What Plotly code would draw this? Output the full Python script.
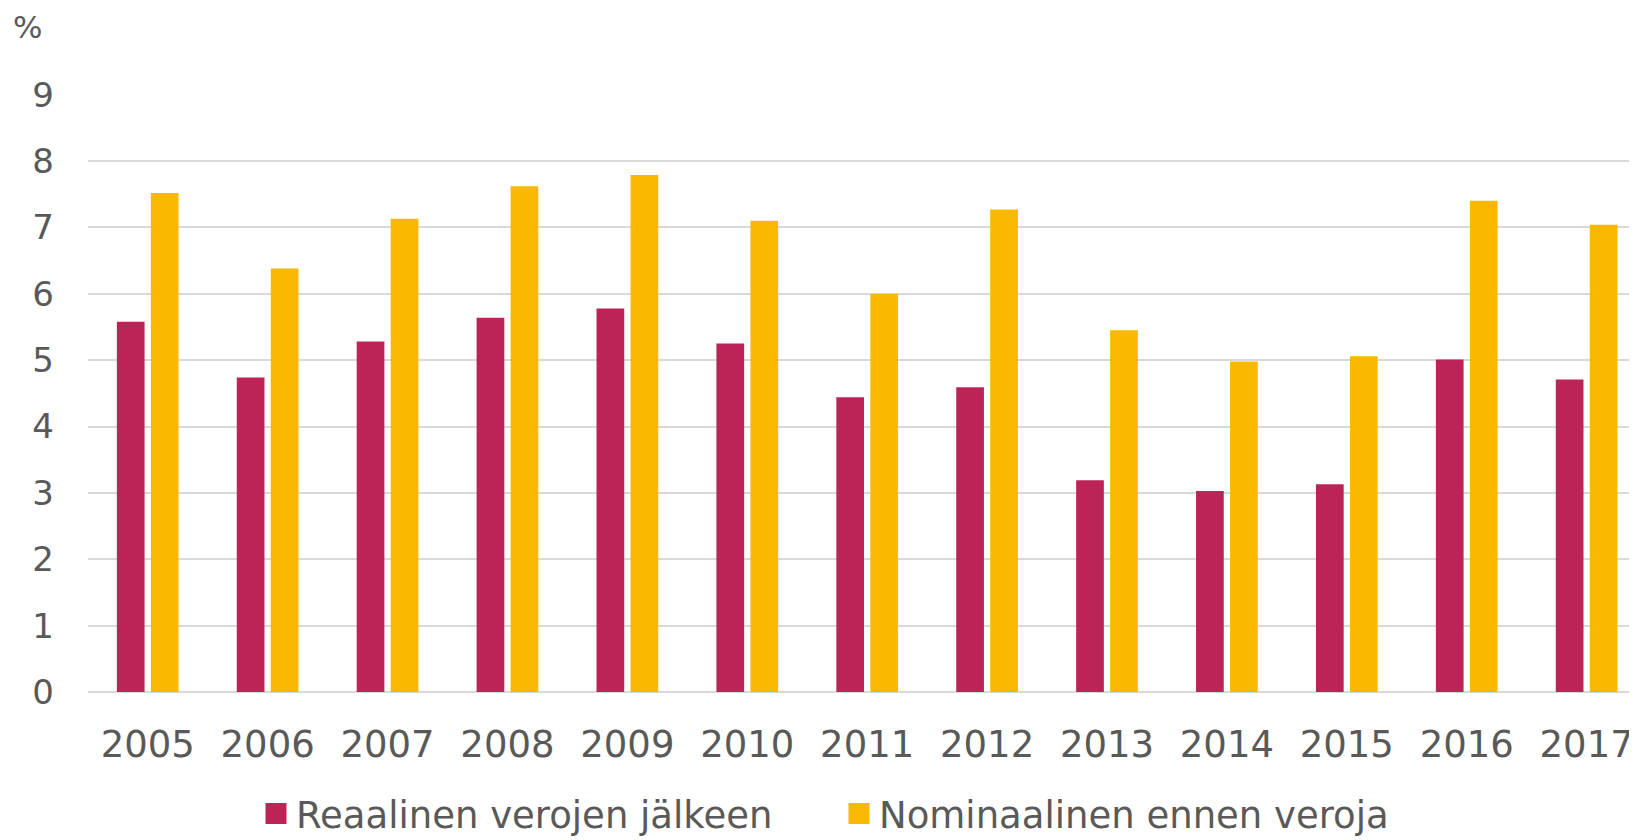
import plotly.graph_objects as go

years = ["2005", "2006", "2007", "2008", "2009", "2010", "2011", "2012", "2013", "2014", "2015", "2016", "2017"]
reaalinen = [5.58, 4.74, 5.28, 5.64, 5.78, 5.25, 4.44, 4.59, 3.19, 3.03, 3.13, 5.01, 4.71]
nominaalinen = [7.52, 6.38, 7.13, 7.62, 7.79, 7.10, 6.00, 7.27, 5.45, 4.98, 5.06, 7.40, 7.04]
series_names = ["Reaalinen verojen jälkeen", "Nominaalinen ennen veroja"]
y_ticks = [0, 1, 2, 3, 4, 5, 6, 7, 8, 9]

RED = "#BC2357"
YELLOW = "#FAB900"
TEXT = "#595959"
FONT = "DejaVu Sans"
W, H = 1629, 832
L, T, B = 80, 86, 148
PW, PH = W - L, H - T - B

fig = go.Figure()
fig.add_trace(go.Bar(x=years, y=reaalinen, name=series_names[0], showlegend=False,
                     marker=dict(color=RED, line=dict(width=0))))
fig.add_trace(go.Bar(x=years, y=nominaalinen, name=series_names[1], showlegend=False,
                     marker=dict(color=YELLOW, line=dict(width=0))))
# legend entries with larger square swatches
for name, col in zip(series_names, [RED, YELLOW]):
    fig.add_trace(go.Scatter(x=[None], y=[None], mode="markers", name=name,
                             marker=dict(symbol="square", size=16, color=col,
                                         line=dict(width=5, color=col))))

fig.update_layout(
    width=W, height=H,
    margin=dict(l=L, r=0, t=T, b=B),
    paper_bgcolor="white", plot_bgcolor="white",
    barmode="group", bargap=0.433, bargroupgap=0.185,
    font=dict(family=FONT, color=TEXT, size=33),
    showlegend=True,
    legend=dict(orientation="h", xref="container", yref="container",
                x=248 / W, xanchor="left", y=1 - 806 / H, yanchor="middle",
                font=dict(family=FONT, size=37, color=TEXT), itemwidth=30,
                entrywidth=538, entrywidthmode="pixels", traceorder="normal"),
    xaxis=dict(type="category", range=[-0.498, 12.42], showgrid=False, showline=False,
               ticks="", tickfont=dict(size=37, color=TEXT), ticklabelstandoff=27),
    yaxis=dict(range=[0, 9.01], tickvals=y_ticks, showgrid=True, gridcolor="#D9D9D9", gridwidth=2,
               zeroline=True, zerolinecolor="#D9D9D9", zerolinewidth=2, showline=False,
               ticks="", tickfont=dict(size=34, color=TEXT), ticklabelstandoff=33),
    annotations=[dict(text="%", xref="paper", yref="paper", x=(19 - L) / PW, y=(PH + T - 19) / PH,
                      xanchor="center", yanchor="middle", showarrow=False,
                      font=dict(family=FONT, size=31, color=TEXT))],
)

fig.write_html("out.html")
